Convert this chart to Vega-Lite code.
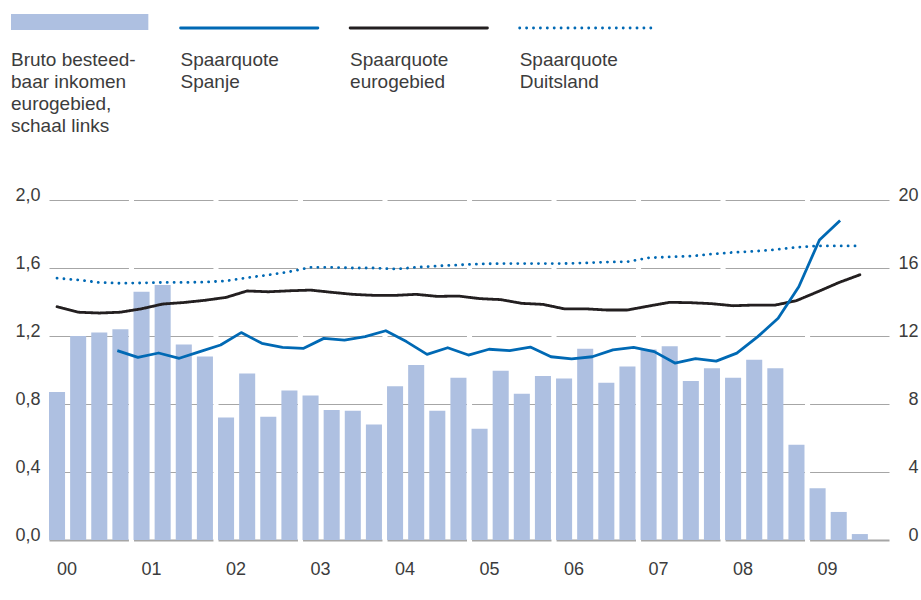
{
  "$schema": "https://vega.github.io/schema/vega-lite/v6.json",
  "padding": {"left": 11, "top": 14, "right": 3, "bottom": 5},
  "background": "white",
  "config": {"view": {"stroke": null}, "font": "Liberation Sans"},
  "datasets": {
    "legend": [
      {"key": "bbi", "label": "Bruto besteed-\nbaar inkomen\neurogebied,\nschaal links"},
      {"key": "es", "label": "Spaarquote\nSpanje"},
      {"key": "ez", "label": "Spaarquote\neurogebied"},
      {"key": "de", "label": "Spaarquote\nDuitsland"}
    ],
    "bars": [
      {"q": "2000Q1", "v": 0.87}, {"q": "2000Q2", "v": 1.2}, {"q": "2000Q3", "v": 1.22}, {"q": "2000Q4", "v": 1.24},
      {"q": "2001Q1", "v": 1.46}, {"q": "2001Q2", "v": 1.5}, {"q": "2001Q3", "v": 1.15}, {"q": "2001Q4", "v": 1.08},
      {"q": "2002Q1", "v": 0.72}, {"q": "2002Q2", "v": 0.98}, {"q": "2002Q3", "v": 0.725}, {"q": "2002Q4", "v": 0.88},
      {"q": "2003Q1", "v": 0.85}, {"q": "2003Q2", "v": 0.765}, {"q": "2003Q3", "v": 0.76}, {"q": "2003Q4", "v": 0.68},
      {"q": "2004Q1", "v": 0.905}, {"q": "2004Q2", "v": 1.03}, {"q": "2004Q3", "v": 0.76}, {"q": "2004Q4", "v": 0.955},
      {"q": "2005Q1", "v": 0.655}, {"q": "2005Q2", "v": 0.995}, {"q": "2005Q3", "v": 0.86}, {"q": "2005Q4", "v": 0.965},
      {"q": "2006Q1", "v": 0.95}, {"q": "2006Q2", "v": 1.125}, {"q": "2006Q3", "v": 0.925}, {"q": "2006Q4", "v": 1.02},
      {"q": "2007Q1", "v": 1.12}, {"q": "2007Q2", "v": 1.14}, {"q": "2007Q3", "v": 0.935}, {"q": "2007Q4", "v": 1.01},
      {"q": "2008Q1", "v": 0.955}, {"q": "2008Q2", "v": 1.06}, {"q": "2008Q3", "v": 1.01}, {"q": "2008Q4", "v": 0.56},
      {"q": "2009Q1", "v": 0.305}, {"q": "2009Q2", "v": 0.165}, {"q": "2009Q3", "v": 0.035}
    ],
    "rates": [
      {"q": "2000Q1", "s": "ez", "r": 13.72}, {"q": "2000Q2", "s": "ez", "r": 13.4}, {"q": "2000Q3", "s": "ez", "r": 13.35}, {"q": "2000Q4", "s": "ez", "r": 13.4},
      {"q": "2001Q1", "s": "ez", "r": 13.6}, {"q": "2001Q2", "s": "ez", "r": 13.88}, {"q": "2001Q3", "s": "ez", "r": 13.97}, {"q": "2001Q4", "s": "ez", "r": 14.1},
      {"q": "2002Q1", "s": "ez", "r": 14.27}, {"q": "2002Q2", "s": "ez", "r": 14.65}, {"q": "2002Q3", "s": "ez", "r": 14.6}, {"q": "2002Q4", "s": "ez", "r": 14.66},
      {"q": "2003Q1", "s": "ez", "r": 14.7}, {"q": "2003Q2", "s": "ez", "r": 14.57}, {"q": "2003Q3", "s": "ez", "r": 14.45}, {"q": "2003Q4", "s": "ez", "r": 14.39},
      {"q": "2004Q1", "s": "ez", "r": 14.39}, {"q": "2004Q2", "s": "ez", "r": 14.45}, {"q": "2004Q3", "s": "ez", "r": 14.33}, {"q": "2004Q4", "s": "ez", "r": 14.35},
      {"q": "2005Q1", "s": "ez", "r": 14.2}, {"q": "2005Q2", "s": "ez", "r": 14.14}, {"q": "2005Q3", "s": "ez", "r": 13.92}, {"q": "2005Q4", "s": "ez", "r": 13.86},
      {"q": "2006Q1", "s": "ez", "r": 13.6}, {"q": "2006Q2", "s": "ez", "r": 13.6}, {"q": "2006Q3", "s": "ez", "r": 13.53}, {"q": "2006Q4", "s": "ez", "r": 13.53},
      {"q": "2007Q1", "s": "ez", "r": 13.76}, {"q": "2007Q2", "s": "ez", "r": 13.98}, {"q": "2007Q3", "s": "ez", "r": 13.96}, {"q": "2007Q4", "s": "ez", "r": 13.9},
      {"q": "2008Q1", "s": "ez", "r": 13.78}, {"q": "2008Q2", "s": "ez", "r": 13.82}, {"q": "2008Q3", "s": "ez", "r": 13.82}, {"q": "2008Q4", "s": "ez", "r": 14.08},
      {"q": "2009Q1", "s": "ez", "r": 14.6}, {"q": "2009Q2", "s": "ez", "r": 15.14}, {"q": "2009Q3", "s": "ez", "r": 15.6},
      {"q": "2000Q1", "s": "de", "r": 15.4}, {"q": "2000Q2", "s": "de", "r": 15.3}, {"q": "2000Q3", "s": "de", "r": 15.15}, {"q": "2000Q4", "s": "de", "r": 15.1},
      {"q": "2001Q1", "s": "de", "r": 15.12}, {"q": "2001Q2", "s": "de", "r": 15.15}, {"q": "2001Q3", "s": "de", "r": 15.15}, {"q": "2001Q4", "s": "de", "r": 15.17},
      {"q": "2002Q1", "s": "de", "r": 15.24}, {"q": "2002Q2", "s": "de", "r": 15.43}, {"q": "2002Q3", "s": "de", "r": 15.59}, {"q": "2002Q4", "s": "de", "r": 15.78},
      {"q": "2003Q1", "s": "de", "r": 16.04}, {"q": "2003Q2", "s": "de", "r": 16.04}, {"q": "2003Q3", "s": "de", "r": 16.0}, {"q": "2003Q4", "s": "de", "r": 16.0},
      {"q": "2004Q1", "s": "de", "r": 15.94}, {"q": "2004Q2", "s": "de", "r": 16.04}, {"q": "2004Q3", "s": "de", "r": 16.12}, {"q": "2004Q4", "s": "de", "r": 16.18},
      {"q": "2005Q1", "s": "de", "r": 16.24}, {"q": "2005Q2", "s": "de", "r": 16.26}, {"q": "2005Q3", "s": "de", "r": 16.26}, {"q": "2005Q4", "s": "de", "r": 16.26},
      {"q": "2006Q1", "s": "de", "r": 16.26}, {"q": "2006Q2", "s": "de", "r": 16.3}, {"q": "2006Q3", "s": "de", "r": 16.35}, {"q": "2006Q4", "s": "de", "r": 16.37},
      {"q": "2007Q1", "s": "de", "r": 16.6}, {"q": "2007Q2", "s": "de", "r": 16.65}, {"q": "2007Q3", "s": "de", "r": 16.7}, {"q": "2007Q4", "s": "de", "r": 16.82},
      {"q": "2008Q1", "s": "de", "r": 16.92}, {"q": "2008Q2", "s": "de", "r": 16.98}, {"q": "2008Q3", "s": "de", "r": 17.08}, {"q": "2008Q4", "s": "de", "r": 17.22},
      {"q": "2009Q1", "s": "de", "r": 17.3}, {"q": "2009Q2", "s": "de", "r": 17.3}, {"q": "2009Q3", "s": "de", "r": 17.3}
    ],
    "spain": [
      {"q": "2000Q4", "r": 11.14},
      {"q": "2001Q1", "r": 10.74}, {"q": "2001Q2", "r": 11.0}, {"q": "2001Q3", "r": 10.69}, {"q": "2001Q4", "r": 11.08},
      {"q": "2002Q1", "r": 11.47}, {"q": "2002Q2", "r": 12.2}, {"q": "2002Q3", "r": 11.57}, {"q": "2002Q4", "r": 11.33},
      {"q": "2003Q1", "r": 11.27}, {"q": "2003Q2", "r": 11.86}, {"q": "2003Q3", "r": 11.76}, {"q": "2003Q4", "r": 11.96},
      {"q": "2004Q1", "r": 12.31}, {"q": "2004Q2", "r": 11.67}, {"q": "2004Q3", "r": 10.92}, {"q": "2004Q4", "r": 11.31},
      {"q": "2005Q1", "r": 10.88}, {"q": "2005Q2", "r": 11.22}, {"q": "2005Q3", "r": 11.14}, {"q": "2005Q4", "r": 11.35},
      {"q": "2006Q1", "r": 10.78}, {"q": "2006Q2", "r": 10.65}, {"q": "2006Q3", "r": 10.78}, {"q": "2006Q4", "r": 11.18},
      {"q": "2007Q1", "r": 11.33}, {"q": "2007Q2", "r": 11.08}, {"q": "2007Q3", "r": 10.41}, {"q": "2007Q4", "r": 10.67},
      {"q": "2008Q1", "r": 10.52}, {"q": "2008Q2", "r": 10.99}, {"q": "2008Q3", "r": 11.95}, {"q": "2008Q4", "r": 13.04},
      {"q": "2009Q1", "r": 14.9}, {"q": "2009Q2", "r": 17.65}, {"q": "2009Q3", "r": 18.8}
    ]
  },
  "spacing": 50,
  "vconcat": [
    {
      "width": 646,
      "height": 120,
      "data": {"name": "legend"},
      "layer": [
        {
          "transform": [{"filter": "datum.key === 'bbi'"}],
          "mark": {"type": "bar", "color": "#aec0e1"},
          "encoding": {
            "x": {"field": "key", "type": "nominal", "bandPosition": 0, "scale": {"domain": ["bbi", "es", "ez", "de"], "paddingInner": 0.19, "paddingOuter": 0, "range": [-38, 608]}, "axis": null},
            "y": {"value": 0},
            "y2": {"value": 16}
          }
        },
        {
          "transform": [{"filter": "datum.key !== 'bbi'"}],
          "mark": {"type": "rule", "strokeWidth": 2.8, "strokeCap": "round"},
          "encoding": {
            "x": {"field": "key", "type": "nominal", "bandPosition": 0, "axis": null},
            "x2": {"field": "key", "bandPosition": 1},
            "y": {"value": 14},
            "color": {"field": "key", "type": "nominal", "scale": {"domain": ["bbi", "es", "ez", "de"], "range": ["#aec0e1", "#0069b4", "#231f20", "#0069b4"]}, "legend": null},
            "strokeDash": {"field": "key", "type": "nominal", "scale": {"domain": ["es", "ez", "de"], "range": [[1, 0], [1, 0], [0.1, 6.8]]}, "legend": null}
          }
        },
        {
          "mark": {"type": "text", "align": "left", "baseline": "alphabetic", "lineBreak": "\n", "lineHeight": 22, "fontSize": 19, "color": "#3c3c3c"},
          "encoding": {
            "x": {"field": "key", "type": "nominal", "bandPosition": 0, "axis": null},
            "y": {"value": 52},
            "text": {"field": "label", "type": "nominal"}
          }
        }
      ]
    },
    {
      "width": 840,
      "height": 340,
      "layer": [
        {
          "layer": [
            {
              "data": {"name": "bars"},
              "mark": {"type": "bar", "color": "#aec0e1"},
              "encoding": {
                "x": {
                  "field": "q", "type": "ordinal",
                  "scale": {
                    "domain": ["2000Q1","2000Q2","2000Q3","2000Q4","2001Q1","2001Q2","2001Q3","2001Q4","2002Q1","2002Q2","2002Q3","2002Q4","2003Q1","2003Q2","2003Q3","2003Q4","2004Q1","2004Q2","2004Q3","2004Q4","2005Q1","2005Q2","2005Q3","2005Q4","2006Q1","2006Q2","2006Q3","2006Q4","2007Q1","2007Q2","2007Q3","2007Q4","2008Q1","2008Q2","2008Q3","2008Q4","2009Q1","2009Q2","2009Q3","2009Q4"],
                    "paddingInner": 0.24, "paddingOuter": 0
                  },
                  "axis": {
                    "title": null,
                    "values": ["2000Q1","2001Q1","2002Q1","2003Q1","2004Q1","2005Q1","2006Q1","2007Q1","2008Q1","2009Q1"],
                    "labelExpr": "substring(datum.value, 2, 4)",
                    "bandPosition": 0,
                    "labelAlign": "left",
                    "labelBaseline": "top",
                    "labelAngle": 0,
                    "labelPadding": 20,
                    "labelFontSize": 18,
                    "labelColor": "#3c3c3c",
                    "ticks": false,
                    "tickSize": 0,
                    "domain": false,
                    "grid": false
                  }
                },
                "y": {
                  "field": "v", "type": "quantitative",
                  "scale": {"domain": [0, 2], "nice": false},
                  "axis": {
                    "orient": "left",
                    "title": null,
                    "values": [0, 0.4, 0.8, 1.2, 1.6, 2.0],
                    "labelExpr": "replace(format(datum.value, '.1f'), '.', ',')",
                    "labelAlign": "right",
                    "labelBaseline": "alphabetic",
                    "labelPadding": 9,
                    "labelFontSize": 18,
                    "labelColor": "#3c3c3c",
                    "ticks": false,
                    "tickSize": 0,
                    "domain": false,
                    "grid": true,
                    "gridColor": "#a6a6a6",
                    "gridDash": [79.44, 5.07],
                    "gridWidth": {"condition": {"test": "datum.value === 0", "value": 2}, "value": 1}
                  }
                }
              }
            },
            {
              "data": {"name": "rates"},
              "mark": {"type": "line", "strokeWidth": 2.8, "strokeCap": "round", "strokeJoin": "round"},
              "encoding": {
                "x": {"field": "q", "type": "ordinal"},
                "y": {
                  "field": "r", "type": "quantitative",
                  "scale": {"domain": [0, 20], "nice": false},
                  "axis": {
                    "orient": "right",
                    "title": null,
                    "values": [0, 4, 8, 12, 16, 20],
                    "format": "d",
                    "labelAlign": "right",
                    "labelBaseline": "alphabetic",
                    "labelPadding": 29,
                    "labelFontSize": 18,
                    "labelColor": "#3c3c3c",
                    "ticks": false,
                    "tickSize": 0,
                    "domain": false,
                    "grid": false
                  }
                },
                "color": {"field": "s", "type": "nominal", "scale": {"domain": ["ez", "de"], "range": ["#231f20", "#0069b4"]}, "legend": null},
                "strokeDash": {"field": "s", "type": "nominal", "scale": {"domain": ["ez", "de"], "range": [[1, 0], [0.1, 6.8]]}, "legend": null}
              }
            }
          ],
          "resolve": {"scale": {"y": "independent"}}
        },
        {
          "data": {"name": "spain"},
          "mark": {"type": "line", "color": "#0069b4", "strokeWidth": 2.8, "strokeJoin": "round"},
          "encoding": {
            "x": {"field": "q", "type": "ordinal", "scale": {"type": "point", "padding": 0, "range": [68.3, 791.1]}, "axis": null},
            "y": {"field": "r", "type": "quantitative", "scale": {"domain": [0, 20], "nice": false}, "axis": null}
          }
        }
      ],
      "resolve": {"scale": {"x": "independent", "y": "independent"}}
    }
  ]
}
